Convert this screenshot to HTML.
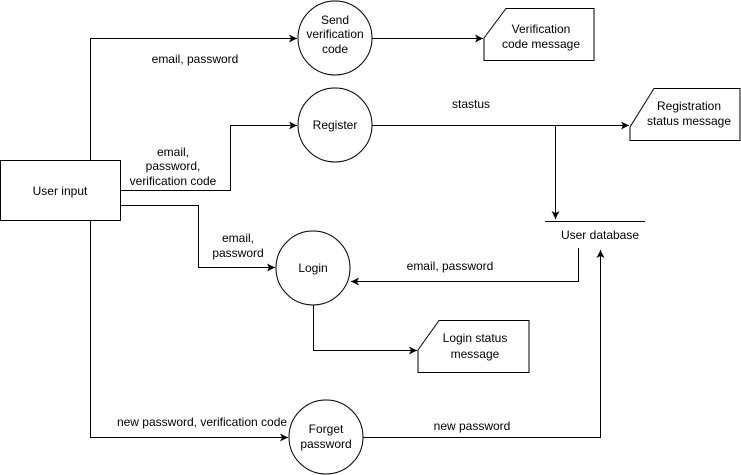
<!DOCTYPE html>
<html><head><style>body{margin:0;background:#fff}svg{display:block}text{font-family:"Liberation Sans",sans-serif;font-size:12px;fill:#000;text-anchor:middle}</style></head>
<body>
<svg width="741" height="475" viewBox="0 0 741 475">
<defs><marker id="a" markerWidth="10" markerHeight="10" refX="8" refY="5" orient="auto" markerUnits="userSpaceOnUse"><path d="M0,1 L8,5 L0,9 L2,5 z" fill="#000"/></marker></defs>
<g fill="none" stroke="#000" stroke-width="1">
<rect x="0.5" y="160.5" width="120" height="60" fill="#fff"/>
<circle cx="335" cy="38" r="37"/>
<circle cx="335" cy="125" r="37"/>
<circle cx="313" cy="268" r="37"/>
<circle cx="326" cy="437" r="37"/>
<path d="M484,38 L506,8.5 L594,8.5 L594,60.5 L484,60.5 Z"/>
<path d="M630,127 L654,88.5 L740,88.5 L740,140.5 L630,140.5 Z"/>
<path d="M418,350 L439,320.5 L529,320.5 L529,372.5 L418,372.5 Z"/>
<path d="M545,221.5 L645,221.5"/>
<path d="M90.5,160 L90.5,38.5 L297,38.5" marker-end="url(#a)"/>
<path d="M372,38.5 L483,38.5" marker-end="url(#a)"/>
<path d="M120,190.5 L230.5,190.5 L230.5,125.5 L297,125.5" marker-end="url(#a)"/>
<path d="M372,125.5 L629,125.5" marker-end="url(#a)"/>
<path d="M555.5,125.5 L555.5,219" marker-end="url(#a)"/>
<path d="M120,205.5 L198.5,205.5 L198.5,267.5 L275,267.5" marker-end="url(#a)"/>
<path d="M578.5,248 L578.5,281.5 L351,281.5" marker-end="url(#a)"/>
<path d="M313.5,305 L313.5,350.5 L417,350.5" marker-end="url(#a)"/>
<path d="M90.5,220 L90.5,437.5 L288,437.5" marker-end="url(#a)"/>
<path d="M363,437.5 L600.5,437.5 L600.5,250" marker-end="url(#a)"/>
</g>
<text x="60" y="195">User input</text>
<text x="335" y="24">Send</text><text x="335" y="38">verification</text><text x="335" y="53">code</text>
<text x="335" y="129">Register</text>
<text x="313" y="272">Login</text>
<text x="326" y="433">Forget</text><text x="326" y="448">password</text>
<text x="541" y="33">Verification</text><text x="541" y="48">code message</text>
<text x="689" y="110">Registration</text><text x="689" y="125">status message</text>
<text x="475" y="342">Login status</text><text x="475" y="358">message</text>
<text x="600" y="239">User database</text>
<text x="195" y="63">email, password</text>
<text x="173" y="156">email,</text><text x="173" y="170">password,</text><text x="173" y="185">verification code</text>
<text x="471" y="108">stastus</text>
<text x="238" y="242">email,</text><text x="238" y="257">password</text>
<text x="450" y="270">email, password</text>
<text x="202" y="426">new password, verification code</text>
<text x="472" y="430">new password</text>
</svg>
</body></html>
